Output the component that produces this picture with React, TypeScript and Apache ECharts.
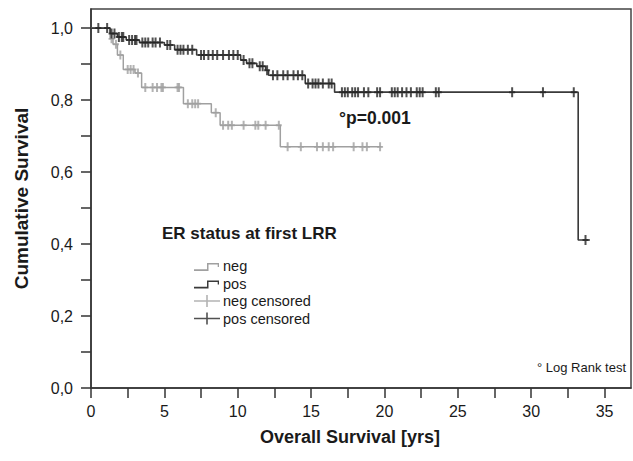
import React, { useEffect, useRef } from "react";
import * as echarts from "echarts";

// Kaplan-Meier steps: [time (yrs), survival after the event]
const negSteps: [number, number][] = [
  [0, 1], [1.3, 0.97], [1.5, 0.955], [1.8, 0.925], [2.2, 0.885], [3.0, 0.875],
  [3.45, 0.835], [6.3, 0.79], [8.2, 0.765], [8.8, 0.73], [12.9, 0.67], [19.8, 0.67],
];
const posSteps: [number, number][] = [
  [0, 1], [1.3, 0.985], [1.8, 0.975], [2.4, 0.967], [3.3, 0.96], [5.0, 0.953],
  [5.7, 0.94], [7.2, 0.925], [10.2, 0.911], [10.6, 0.902], [11.3, 0.894],
  [11.9, 0.883], [12.1, 0.869], [14.6, 0.846], [16.6, 0.822], [33.2, 0.411], [34.0, 0.411],
];
const negCensored: [number, number][] = [
  [1.4, 0.97], [1.7, 0.955], [2.0, 0.925], [2.5, 0.885], [2.7, 0.885], [2.9, 0.885],
  [3.2, 0.875], [3.7, 0.835], [4.2, 0.835], [4.5, 0.835], [4.8, 0.835], [4.9, 0.835],
  [5.9, 0.835], [6.0, 0.835], [6.6, 0.79], [6.9, 0.79], [7.1, 0.79], [7.3, 0.79],
  [8.5, 0.765], [9.0, 0.73], [9.35, 0.73], [9.6, 0.73], [10.4, 0.73], [11.2, 0.73],
  [11.4, 0.73], [11.9, 0.73], [12.8, 0.73], [13.4, 0.67], [14.3, 0.67], [15.4, 0.67],
  [15.8, 0.67], [16.2, 0.67], [16.5, 0.67], [17.9, 0.67], [18.5, 0.67], [18.8, 0.67], [19.7, 0.67],
];
const posCensored: [number, number][] = [
  [0.5, 1], [1.1, 1], [1.4, 0.985], [1.6, 0.985], [1.9, 0.975], [2.1, 0.975], [2.2, 0.975],
  [2.6, 0.967], [2.8, 0.967], [3.0, 0.967], [3.1, 0.967], [3.5, 0.96], [3.7, 0.96],
  [3.9, 0.96], [4.2, 0.96], [4.4, 0.96], [4.7, 0.96], [5.2, 0.953], [5.4, 0.953],
  [5.9, 0.94], [6.1, 0.94], [6.3, 0.94], [6.6, 0.94], [6.9, 0.94], [7.5, 0.925],
  [7.7, 0.925], [8.0, 0.925], [8.3, 0.925], [8.6, 0.925], [9.0, 0.925], [9.4, 0.925],
  [9.7, 0.925], [10.0, 0.925], [10.4, 0.911], [10.8, 0.902], [11.0, 0.902], [11.5, 0.894],
  [11.7, 0.894], [12.0, 0.883], [12.4, 0.869], [12.7, 0.869], [13.1, 0.869], [13.4, 0.869],
  [13.8, 0.869], [14.1, 0.869], [14.4, 0.869], [14.8, 0.846], [15.1, 0.846], [15.3, 0.846],
  [15.5, 0.846], [15.8, 0.846], [16.2, 0.846], [16.4, 0.846], [17.1, 0.822], [17.3, 0.822],
  [17.5, 0.822], [17.8, 0.822], [18.0, 0.822], [18.2, 0.822], [18.6, 0.822], [18.9, 0.822],
  [19.5, 0.822], [19.7, 0.822], [20.5, 0.822], [20.7, 0.822], [20.9, 0.822], [21.2, 0.822],
  [21.5, 0.822], [21.8, 0.822], [22.2, 0.822], [22.4, 0.822], [22.6, 0.822], [23.5, 0.822],
  [23.7, 0.822], [28.7, 0.822], [30.8, 0.822], [32.9, 0.822], [33.7, 0.411],
];

const xTicks = [0, 2.5, 5, 7.5, 10, 12.5, 15, 17.5, 20, 22.5, 25, 27.5, 30, 32.5, 35];
const xLabels = [0, 5, 10, 15, 20, 25, 30, 35];
const yTicks = [0, 0.1, 0.2, 0.3, 0.4, 0.5, 0.6, 0.7, 0.8, 0.9, 1.0];
const yLabels = [0, 0.2, 0.4, 0.6, 0.8, 1.0];

const seriesNames = ["neg", "pos", "neg censored", "pos censored"];

const NEG = "#a0a0a0";
const POS = "#3a3a3a";
const POS_MARK = "#262626";
const FONT = 'Arial, "Liberation Sans", sans-serif';

const plusSymbol = "path://M2,0H4V9H2Z M0,3.6H6V5.4H0Z";
const stepIcon = "path://M0,0M26,12M0,9.3H13V3H25V7H23.7V4.5H14.5V11H0Z";
const plusIcon = "path://M0,5.3H12.2V0H13.8V5.3H26V6.7H13.8V12H12.2V6.7H0Z";

export default function App() {
  const ref = useRef<HTMLDivElement>(null);
  useEffect(() => {
    document.body.style.margin = "0";
    const chart = echarts.init(ref.current!, null, { renderer: "svg" });
    chart.setOption({
      animation: false,
      backgroundColor: "#ffffff",
      textStyle: { fontFamily: FONT },
      grid: {
        left: 91, right: 2, top: 9, bottom: 73,
        show: true, borderColor: "#444", borderWidth: 1.5,
        outerBoundsMode: "none",
      },
      xAxis: {
        type: "value", min: 0, max: 36.8,
        name: "Overall Survival [yrs]", nameLocation: "middle", nameGap: 40,
        nameTextStyle: { fontFamily: FONT, fontSize: 18, fontWeight: "bold", color: "#1a1a1a", padding: [0, 22, 0, 0] },
        axisLine: { show: true, lineStyle: { color: "#333", width: 1.5 } },
        axisTick: { show: true, length: 10, customValues: xTicks, lineStyle: { color: "#333", width: 1.5 } },
        axisLabel: { customValues: xLabels, margin: 15, fontSize: 16, color: "#1a1a1a", fontFamily: FONT },
        splitLine: { show: false },
      },
      yAxis: {
        type: "value", min: 0, max: 1.053,
        name: "Cumulative Survival", nameLocation: "middle", nameGap: 60,
        nameTextStyle: { fontFamily: FONT, fontSize: 19, fontWeight: "bold", color: "#1a1a1a" },
        axisLine: { show: true, lineStyle: { color: "#333", width: 1.5 } },
        axisTick: { show: true, length: 10, customValues: yTicks, lineStyle: { color: "#333", width: 1.5 } },
        axisLabel: {
          customValues: yLabels, margin: 18, fontSize: 16, color: "#1a1a1a", fontFamily: FONT,
          formatter: (v: number) => v.toFixed(1).replace(".", ","),
        },
        splitLine: { show: false },
      },
      legend: {
        orient: "vertical", left: 189, top: 253,
        itemWidth: 26, itemHeight: 12, itemGap: 1.5,
        selectedMode: false,
        itemStyle: { borderWidth: 0 },
        textStyle: { fontFamily: FONT, fontSize: 14.5, color: "#1a1a1a", lineHeight: 16, padding: [0, 0, 0, -2] },
        data: [
          { name: seriesNames[0], icon: stepIcon },
          { name: seriesNames[1], icon: stepIcon },
          { name: seriesNames[2], icon: plusIcon },
          { name: seriesNames[3], icon: plusIcon },
        ],
      },
      graphic: [
        {
          type: "text", left: 162, top: 225,
          style: { text: "ER status at first LRR", font: `bold 17px ${FONT}`, fill: "#1a1a1a" },
        },
        {
          type: "text", left: 339, top: 109,
          style: { text: "°p=0.001", font: `bold 17.5px ${FONT}`, fill: "#1a1a1a" },
        },
        {
          type: "text", left: 537, top: 361,
          style: { text: "° Log Rank test", font: `13px ${FONT}`, fill: "#1a1a1a" },
        },
      ],
      series: [
        {
          name: seriesNames[0], type: "line", step: "end", symbol: "none",
          data: negSteps, z: 2,
          lineStyle: { color: NEG, width: 1.5 }, itemStyle: { color: NEG },
        },
        {
          name: seriesNames[1], type: "line", step: "end", symbol: "none",
          data: posSteps, z: 3,
          lineStyle: { color: POS, width: 1.6 }, itemStyle: { color: POS },
        },
        {
          name: seriesNames[2], type: "scatter", symbol: plusSymbol, symbolSize: [6, 9],
          data: negCensored, z: 4, itemStyle: { color: NEG },
        },
        {
          name: seriesNames[3], type: "scatter", symbol: plusSymbol, symbolSize: [6, 10],
          data: posCensored, z: 5, itemStyle: { color: POS_MARK },
        },
      ],
    });
    return () => chart.dispose();
  }, []);
  return <div ref={ref} style={{ width: 633, height: 461 }} />;
}
